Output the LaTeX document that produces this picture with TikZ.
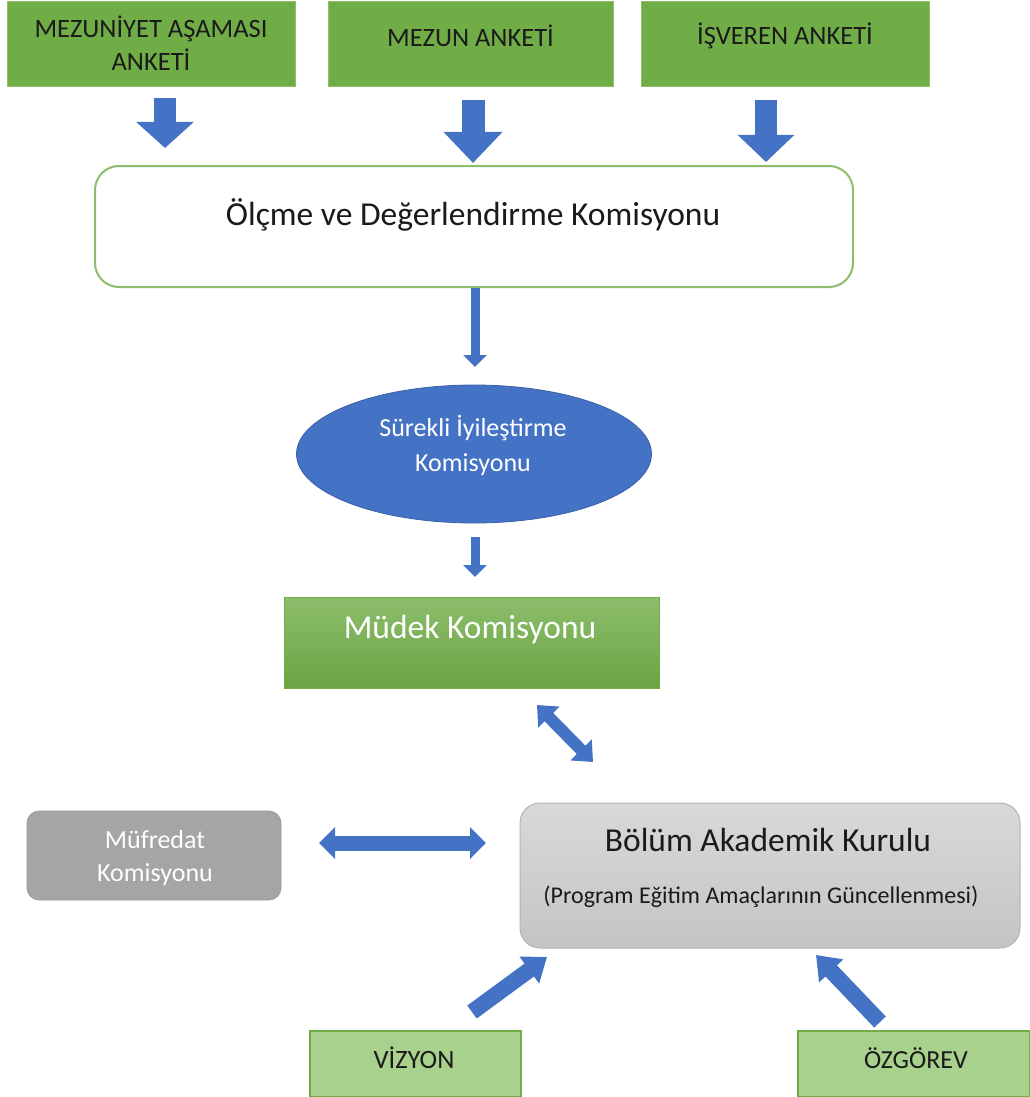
\documentclass[tikz,border=0pt]{standalone}
\usepackage{fontspec}
\setmainfont{Carlito}
\usetikzlibrary{arrows.meta,shapes.geometric}
\definecolor{ogreen}{HTML}{70AD47}
\definecolor{ogreenedge}{HTML}{8CC168}
\definecolor{lgreen}{HTML}{A9D18E}
\definecolor{oblue}{HTML}{4472C4}
\definecolor{dgray}{HTML}{A5A5A5}
\definecolor{lgrayedge}{HTML}{B4B4B4}
\definecolor{txtdark}{HTML}{1A1A1A}
\begin{document}
\begin{tikzpicture}[x=1pt,y=-1pt,
  gbox/.style={rectangle, fill=ogreen, draw=ogreenedge, line width=1pt, inner sep=0pt},
  lbox/.style={rectangle, fill=lgreen, draw=ogreen, line width=1.5pt, inner sep=0pt},
  txt/.style={inner sep=0pt, text=txtdark, align=center},
  wtxt/.style={inner sep=0pt, text=white, align=center},
  blk/.style={draw=oblue, fill=oblue},
]
\useasboundingbox (0,0) rectangle (1030,1097);

% top survey boxes
\node[gbox, minimum width=288pt, minimum height=85pt] (m1) at (151,44.5) {};
\node[gbox, minimum width=285pt, minimum height=85pt] (m2) at (470.5,44.5) {};
\node[gbox, minimum width=288pt, minimum height=85pt] (m3) at (785,44.5) {};
\node[txt, font=\fontsize{26.5}{33}\selectfont] (t1) at (151,43) {MEZUNİYET AŞAMASI\\ANKETİ};
\node[txt, font=\fontsize{26.5}{33}\selectfont] (t2) at (470.5,36) {MEZUN ANKETİ};
\node[txt, font=\fontsize{26.5}{33}\selectfont] (t3) at (785,36) {İŞVEREN ANKETİ};

% block arrows from surveys
\coordinate (a1s) at (165,98);  \coordinate (a1e) at (165,148);
\coordinate (a2s) at (473,100); \coordinate (a2e) at (473,163);
\coordinate (a3s) at (766,100); \coordinate (a3e) at (766,162);
\draw[blk, line width=22pt, -{Triangle[width=56pt,length=26pt]}] (a1s) -- (a1e);
\draw[blk, line width=23pt, -{Triangle[width=57pt,length=31pt]}] (a2s) -- (a2e);
\draw[blk, line width=22pt, -{Triangle[width=55pt,length=27pt]}] (a3s) -- (a3e);

% Olcme
\node[rectangle, rounded corners=24pt, draw=ogreen!80, line width=2pt, fill=white,
      minimum width=758pt, minimum height=121pt] (olc) at (474,226.5) {};
\node[txt, font=\fontsize{33.5}{38}\selectfont] (olct) at (473,215) {Ölçme ve Değerlendirme Komisyonu};

% ellipse
\node[ellipse, fill=oblue, draw=oblue!85!black, line width=0.8pt, minimum width=355pt, minimum height=138pt, inner sep=0pt] (sik) at (474,454) {};
\node[wtxt, font=\fontsize{26}{35}\selectfont] (sikt) at (473,445.5) {Sürekli İyileştirme\\Komisyonu};

\draw[blk, line width=9pt, -{Triangle[width=23pt,length=12pt]}] (olc.south -| 475,0) -- (475,367);
\draw[blk, line width=9pt, -{Triangle[width=23pt,length=12pt]}] (475,537) -- (475,577);

% Mudek
\node[rectangle, top color=ogreen!80!white, bottom color=ogreen!95!black, draw=ogreen, line width=1pt,
      minimum width=375pt, minimum height=91pt, inner sep=0pt] (mud) at (471.5,642.5) {};
\node[wtxt, font=\fontsize{33.5}{38}\selectfont] (mudt) at (470,630) {Müdek Komisyonu};

% Mufredat
\node[rectangle, rounded corners=12pt, fill=dgray, draw=dgray!90!black, line width=0.6pt,
      minimum width=254pt, minimum height=89pt, inner sep=0pt] (muf) at (154,855.5) {};
\node[wtxt, font=\fontsize{26}{33}\selectfont] (muft) at (155,858.5) {Müfredat\\Komisyonu};

% Bolum
\node[rectangle, rounded corners=20pt, top color=black!15, bottom color=black!23, draw=lgrayedge, line width=1pt,
      minimum width=500pt, minimum height=145pt, inner sep=0pt] (bol) at (770,875.5) {};
\node[txt, font=\fontsize{33.5}{38}\selectfont] (bolt) at (768,840) {Bölüm Akademik Kurulu};
\node[txt, font=\fontsize{24}{28}\selectfont] (bols) at (761,897) {(Program Eğitim Amaçlarının Güncellenmesi)};

% double arrows
\coordinate (d1) at (537,705); \coordinate (d2) at (593,762);
\draw[blk, line width=12pt, {Triangle[width=29pt,length=17pt]}-{Triangle[width=29pt,length=17pt]}] (d1) -- (d2);
\coordinate (h1) at (319,843); \coordinate (h2) at (486,843);
\draw[blk, line width=15pt, {Triangle[width=31pt,length=16pt]}-{Triangle[width=31pt,length=16pt]}] (h1) -- (h2);

% bottom boxes
\node[lbox, minimum width=211pt, minimum height=66pt] (viz) at (415.5,1064) {};
\node[txt, font=\fontsize{26.5}{30}\selectfont] (vizt) at (414,1058) {VİZYON};
\node[lbox, minimum width=232pt, minimum height=66pt] (ozg) at (914,1064) {};
\node[txt, font=\fontsize{26}{30}\selectfont] (ozgt) at (916,1058) {ÖZGÖREV};

\coordinate (v1) at (472,1012); \coordinate (v2) at (547,957);
\draw[blk, line width=16pt, -{Triangle[width=32pt,length=22pt]}] (v1) -- (v2);
\coordinate (o1) at (880,1022); \coordinate (o2) at (816,955);
\draw[blk, line width=16pt, -{Triangle[width=32pt,length=22pt]}] (o1) -- (o2);
\end{tikzpicture}
\end{document}
